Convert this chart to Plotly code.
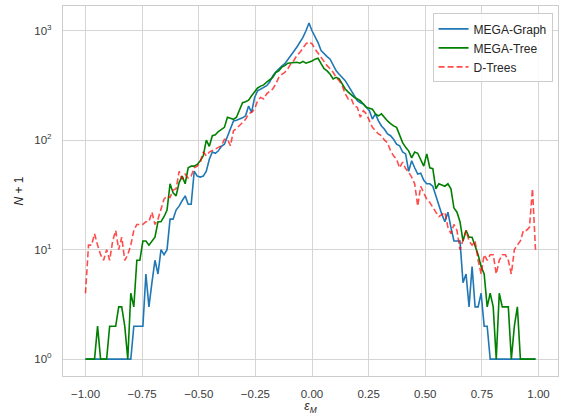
import numpy as np
import plotly.graph_objects as go

# Histogram bin left edges (150 bins over [-1, 1))
N_BINS = 150
bin_edges = np.linspace(-1.0, 1.0, N_BINS + 1)[:-1]

series_names = ["MEGA-Graph", "MEGA-Tree", "D-Trees"]

mega_graph = [
    1, 1, 1, 1, 1, 1, 1, 1, 1, 1,
    1, 1, 1, 1, 1, 1, 2, 2, 2, 2,
    6, 3, 5, 8, 6, 10, 9, 10, 19, 19,
    23, 25, 28, 31, 26, 26, 52, 47, 46, 47,
    52, 67, 78, 76, 80, 88, 92, 110, 126, 150,
    152, 155, 160, 167, 205, 180, 246, 283, 295, 305,
    315, 340, 387, 420, 450, 475, 500, 550, 600, 650,
    710, 780, 870, 1000, 1175, 1000, 880, 780, 660, 615,
    580, 550, 480, 430, 400, 370, 350, 315, 283, 255,
    230, 220, 214, 200, 186, 156, 174, 150, 135, 126,
    114, 110, 102, 92, 89, 78, 75, 52, 65, 56,
    49, 50, 43, 40, 40, 38, 31, 26, 21, 18,
    22, 16, 12, 12, 12, 5, 6, 3, 7, 3,
    3, 4, 2, 2, 1, 1, 1, 1, 1, 1,
    1, 1, 1, 1, 1, 1, 1, 1, 1, 1,
]

mega_tree = [
    1, 1, 1, 1, 2, 1, 1, 1, 2, 2,
    2, 3, 3, 2, 1, 4, 3, 8, 8, 12,
    12, 11, 12, 13, 18, 18, 20, 23, 40, 33,
    31, 41, 47, 40, 56, 58, 58, 60, 65, 72,
    100, 88, 110, 112, 120, 126, 131, 162, 158, 155,
    162, 190, 220, 225, 232, 255, 275, 300, 312, 320,
    340, 360, 375, 415, 430, 465, 480, 505, 510, 510,
    515, 505, 525, 505, 515, 530, 550, 560, 500, 450,
    430, 400, 363, 375, 363, 325, 294, 275, 260, 246,
    238, 230, 214, 200, 196, 192, 174, 167, 174, 160,
    150, 142, 135, 131, 110, 95, 86, 80, 69, 78,
    76, 66, 58, 75, 56, 55, 36, 40, 39, 38,
    40, 36, 24, 22, 18, 12, 15, 13, 13, 11,
    9, 7, 6, 3, 4, 3, 1, 4, 3, 3,
    3, 1, 2, 3, 1, 1, 1, 1, 1, 1,
]

d_trees = [
    4, 11, 11, 14, 11, 9, 8, 10, 8, 12,
    15, 10, 13, 8, 9, 11, 15, 17, 17, 17,
    18, 18, 22, 17, 19, 23, 29, 31, 30, 35,
    36, 52, 44, 49, 45, 47, 56, 58, 63, 78,
    72, 78, 80, 83, 86, 89, 102, 102, 89, 122,
    128, 135, 145, 155, 174, 180, 192, 230, 246, 238,
    265, 280, 294, 325, 375, 400, 417, 450, 500, 535,
    594, 635, 700, 760, 790, 760, 680, 620, 575, 520,
    480, 450, 417, 375, 350, 315, 265, 238, 240, 205,
    200, 162, 186, 174, 150, 131, 122, 114, 110, 100,
    95, 80, 72, 67, 56, 63, 55, 51, 46, 40,
    25, 38, 33, 29, 27, 24, 22, 20, 21, 22,
    16, 14, 17, 15, 10, 12, 15, 12, 11, 12,
    8, 6, 9, 8, 9, 9, 6, 8, 9, 9,
    8, 6, 10, 11, 12, 15, 15, 16, 36, 10,
]

x_tick_vals = [-1.0, -0.75, -0.5, -0.25, 0.0, 0.25, 0.5, 0.75, 1.0]
x_tick_text = ["\u22121.00", "\u22120.75", "\u22120.50", "\u22120.25", "0.00", "0.25", "0.50", "0.75", "1.00"]
y_tick_vals = [1, 10, 100, 1000]
y_tick_text = ["10<sup>0</sup>", "10<sup>1</sup>", "10<sup>2</sup>", "10<sup>3</sup>"]

FONT = "Liberation Sans, Arial, DejaVu Sans, sans-serif"
GRID = "#d5d5d5"
TICK_FONT = dict(family=FONT, size=11.5, color="#3a3a3a")

fig = go.Figure()
fig.add_trace(go.Scatter(x=bin_edges, y=mega_graph, mode="lines", name=series_names[0],
                         line=dict(color="#1f77b4", width=1.6)))
fig.add_trace(go.Scatter(x=bin_edges, y=mega_tree, mode="lines", name=series_names[1],
                         line=dict(color="#008000", width=1.6)))
fig.add_trace(go.Scatter(x=bin_edges, y=d_trees, mode="lines", name=series_names[2],
                         line=dict(color="rgba(255,0,0,0.7)", width=1.6, dash="6px,3px")))

fig.update_layout(
    width=566, height=415,
    margin=dict(l=63, r=8, t=6, b=39, autoexpand=False),
    paper_bgcolor="white", plot_bgcolor="white",
    font=dict(family=FONT, size=11.5, color="#333333"),
    showlegend=True,
    legend=dict(
        x=0.989, y=0.980, xanchor="right", yanchor="top",
        bgcolor="rgba(255,255,255,0.85)", bordercolor="#cccccc", borderwidth=1,
        font=dict(family=FONT, size=12, color="#262626"),
        tracegroupgap=0, itemwidth=30,
    ),
    xaxis=dict(
        range=[-1.0993, 1.0860], automargin=False,
        tickvals=x_tick_vals, ticktext=x_tick_text, tickfont=TICK_FONT,
        showgrid=True, gridcolor=GRID, gridwidth=1,
        showline=True, linecolor="#cccccc", linewidth=1.2, mirror=True,
        zeroline=False, ticks="", ticklabelstandoff=7,
        title=dict(text="<i>\u03b5</i><sub><i>M</i></sub>", font=dict(size=12, color="#262626"), standoff=2),
    ),
    yaxis=dict(
        type="log", automargin=False,
        range=[-0.154, 3.226],
        tickvals=y_tick_vals, ticktext=y_tick_text, tickfont=TICK_FONT,
        showgrid=True, gridcolor=GRID, gridwidth=1,
        showline=True, linecolor="#cccccc", linewidth=1.2, mirror=True,
        zeroline=False, ticks="", ticklabelstandoff=8,
        title=dict(text="<i>N</i> + 1", font=dict(size=12, color="#262626"), standoff=8),
    ),
)

fig.write_html("out.html", config={"displayModeBar": False},
               post_script="document.body.style.margin='0';document.body.style.padding='0';")
